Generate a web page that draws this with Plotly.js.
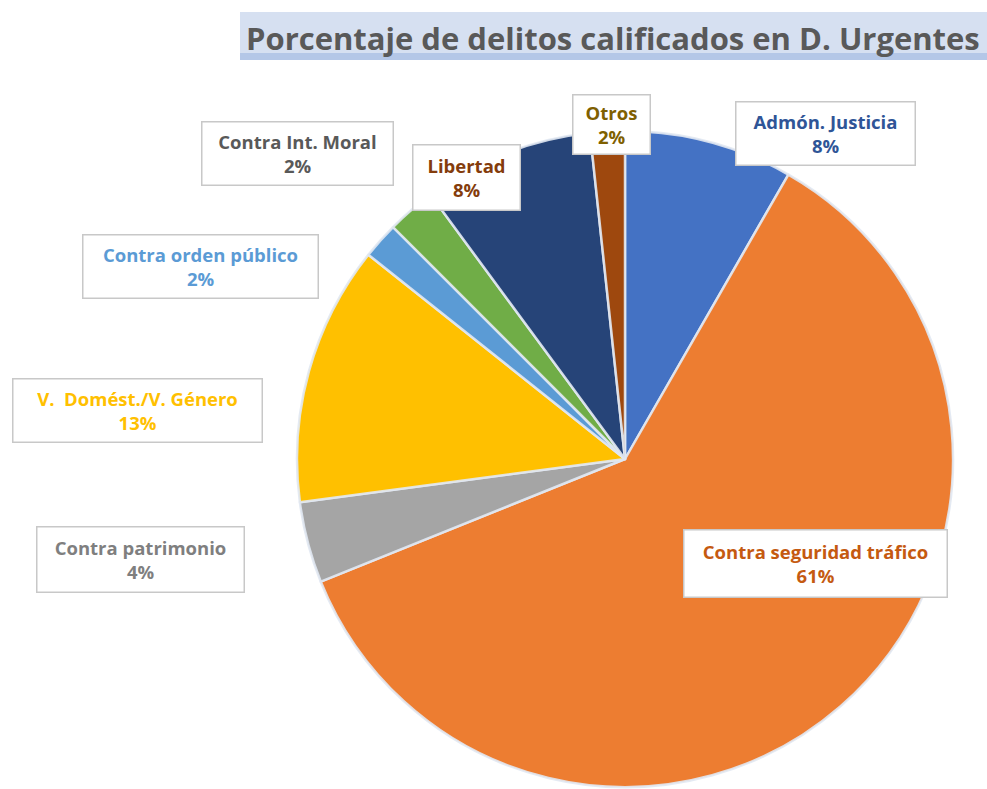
<!DOCTYPE html>
<html>
<head>
<meta charset="utf-8">
<script src="https://cdn.plot.ly/plotly-3.0.1.min.js"></script>
<style>html,body{margin:0;padding:0;background:#fff;}#chart{width:987px;height:789px;}</style>
</head>
<body>
<div id="chart"></div>
<script>
// ---- data ----
const categories = ["Admón. Justicia", "Contra seguridad tráfico", "Contra patrimonio", "V.  Domést./V. Género", "Contra orden público", "Contra Int. Moral", "Libertad", "Otros"];
const values = [8.3, 60.6, 4.0, 12.8, 1.8, 2.4, 8.4, 1.7];
const sliceColors = ["#4472C4", "#ED7D31", "#A5A5A5", "#FFC000", "#5B9BD5", "#70AD47", "#264478", "#9E480E"];
const labelColors = ["#2F5597", "#C55A11", "#7F7F7F", "#FFC000", "#5B9BD5", "#595959", "#843C0C", "#7F6000"];
const titleText = "Porcentaje de delitos calificados en D. Urgentes";

// ---- layout helpers (positions of callout boxes, pixel centres) ----
const W = 987, H = 789;
const boxCenters = [[825,133],[815,563],[140,559],[137,410],[200,266],[297,153],[466,178],[611,125]];
const boxSizes = [[180,64],[264,68],[208,66],[250,64],[236,64],[192,64],[108,66],[78,60]];

const total = values.reduce((a,b)=>a+b,0);
const FONT = "Open Sans, Lato, sans-serif";

const annotations = categories.map((c,i)=>({
  xref:'paper', yref:'paper',
  x: boxCenters[i][0]/W, y: 1 - boxCenters[i][1]/H,
  xanchor:'center', yanchor:'middle',
  text: '<b>' + c + '</b><br><b>' + Math.round(values[i]/total*100) + '%</b>',
  showarrow:false,
  font:{family:FONT, size:18.5, color:labelColors[i]},
  bgcolor:'#FFFFFF', bordercolor:'#C8C8C8', borderwidth:1.5,
  width: boxSizes[i][0]-4, height: boxSizes[i][1]-4,
  align:'center'
}));

annotations.push({
  xref:'paper', yref:'paper', x: 613/W, y: 1 - 38/H,
  xanchor:'center', yanchor:'middle', showarrow:false,
  text:'<b>' + titleText + '</b>',
  font:{family:FONT, size:31, color:'#595959'}
});

const cx = 625, cy = 459, r = 328;

const trace = {
  type:'pie',
  labels: categories,
  values: values,
  sort:false,
  direction:'clockwise',
  rotation:0,
  textinfo:'none',
  hoverinfo:'label+percent',
  marker:{colors:sliceColors, line:{color:'rgba(225,232,242,0.9)', width:2.5}},
  domain:{x:[(cx-r)/W,(cx+r)/W], y:[1-(cy+r)/H, 1-(cy-r)/H]},
  showlegend:false
};

const layout = {
  width:W, height:H,
  margin:{l:0,r:0,t:0,b:0},
  paper_bgcolor:'#FFFFFF',
  showlegend:false,
  shapes:[
    {type:'rect', xref:'paper', yref:'paper', x0:240/W, x1:1, y0:1-60/H, y1:1-12/H, fillcolor:'#D6E0F1', line:{width:0}, layer:'below'},
    {type:'rect', xref:'paper', yref:'paper', x0:240/W, x1:1, y0:1-60/H, y1:1-53/H, fillcolor:'#B4C7E7', line:{width:0}, layer:'below'}
  ],
  annotations: annotations
};

Plotly.newPlot('chart', [trace], layout, {displayModeBar:false, staticPlot:true});
</script>
</body>
</html>
